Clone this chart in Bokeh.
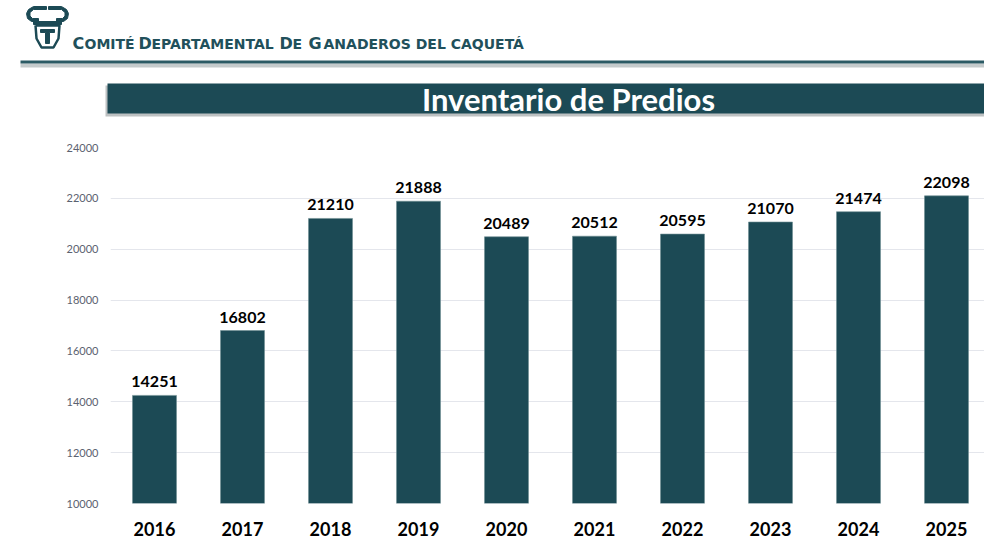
from bokeh.plotting import figure
from bokeh.models import Range1d, FixedTicker, ColumnDataSource
from bokeh.core.properties import value
from bokeh.embed import file_html
from bokeh.resources import INLINE

# ---- data ----
years = ["2016", "2017", "2018", "2019", "2020", "2021", "2022", "2023", "2024", "2025"]
predios = [14251, 16802, 21210, 21888, 20489, 20512, 20595, 21070, 21474, 22098]
y_ticks = [10000, 12000, 14000, 16000, 18000, 20000, 22000, 24000]
title_text = "Inventario de Predios"
# small-caps header: (text, is_capital)
header_parts = [("C", True), ("OMITÉ", False), ("D", True), ("EPARTAMENTAL", False),
                ("D", True), ("E", False), ("G", True), ("ANADEROS DEL CAQUETÁ", False)]

TEAL = "#1C4A55"
FONT = "Lato"
W = 984
HH = 120          # header height
CH = 424          # chart height

# ================= header figure (pixel coordinates, y downwards) =================
hdr = figure(width=W, height=HH, x_range=Range1d(0, W), y_range=Range1d(HH, 0),
             x_axis_type=None, y_axis_type=None, toolbar_location=None,
             output_backend="svg", min_border=0, outline_line_color=None)
hdr.grid.visible = False

# logo (stylised bull head)
left_horn = [(46, 6), (33, 6), (28, 9), (26, 13), (27, 18), (31, 21), (38, 21), (38, 18),
             (32, 18), (29.5, 15.5), (29.5, 12), (33, 9), (46, 9)]
right_horn = [(94 - x, y) for x, y in left_horn]
bar = [(33, 21), (61, 21), (61, 24), (33, 24)]
inner = [(40, 29), (54, 29), (54, 32), (49, 32), (49, 43), (45, 43), (45, 32), (40, 32)]
shapes = [left_horn, right_horn, bar, inner]
hdr.patches(xs=[[a for a, b in s] for s in shapes], ys=[[b for a, b in s] for s in shapes],
            fill_color=TEAL, line_color=TEAL, line_width=1)
shield = [(35, 25), (59, 25), (58, 38), (53, 47), (41, 47), (36, 38), (35, 25)]
hdr.line(x=[a for a, b in shield], y=[b for a, b in shield], line_color=TEAL, line_width=2.5)

# header text in small caps
starts = [72, 84, 138, 151, 279, 292, 308, 323]
hdr.text(x=starts, y=[43] * len(starts), text=[t for t, c in header_parts],
         text_font=value("DejaVu Sans"), text_font_style="bold",
         text_font_size=["16px" if c else "14px" for t, c in header_parts],
         text_color="#21505B", text_align="left", text_baseline="alphabetic")

# header rule with shadow
hdr.quad(left=[20], right=[W], top=[63], bottom=[67], fill_color="#C5CBCC", line_color=None)
hdr.quad(left=[20], right=[W], top=[60], bottom=[63], fill_color="#2C5B65", line_color=None)

# title banner with shadow
hdr.quad(left=[105], right=[W], top=[85], bottom=[116], fill_color="#BDC1C2", line_color=None)
hdr.quad(left=[107], right=[W], top=[83], bottom=[113], fill_color=TEAL, line_color=None)
hdr.text(x=[568], y=[98], text=[title_text], text_font=value(FONT), text_font_style="bold",
         text_font_size="31px", text_color="white", text_align="center", text_baseline="middle")

# ================= chart figure =================
FL, FT = 110, 27
FB = CH - 41
X0, STEP = -0.5, 88.0

xs = list(range(len(years)))
src = ColumnDataSource(dict(x=xs, top=predios, lbl=[str(v) for v in predios]))

p = figure(width=W, height=CH, x_range=Range1d(X0, X0 + (W - FL) / STEP),
           y_range=Range1d(10000, 24000), toolbar_location=None, output_backend="svg",
           min_border_left=FL, min_border_right=0, min_border_top=FT,
           min_border_bottom=CH - FB, outline_line_color=None)

p.vbar(x="x", top="top", bottom=10000, width=0.5, source=src,
       fill_color=TEAL, line_color="#6F8E94", line_width=0.6)
p.text(x="x", y="top", text="lbl", source=src, text_font=value(FONT), text_font_style="bold",
       text_font_size="16px", text_color="black", text_align="center",
       text_baseline="bottom", y_offset=-8)

p.xgrid.visible = False
p.ygrid.grid_line_color = "#E4E6EC"
p.ygrid.grid_line_width = 1
p.ygrid.ticker = FixedTicker(ticks=y_ticks)

p.yaxis.ticker = FixedTicker(ticks=y_ticks)
p.yaxis.axis_line_color = None
p.yaxis.major_tick_line_color = None
p.yaxis.minor_tick_line_color = None
p.yaxis.major_tick_out = 0
p.yaxis.major_tick_in = 0
p.yaxis.major_label_text_font = FONT
p.yaxis.major_label_text_font_size = "11px"
p.yaxis.major_label_text_color = "#5B6270"
p.yaxis.major_label_standoff = 12

p.xaxis.ticker = FixedTicker(ticks=xs)
p.xaxis.major_label_overrides = {i: y for i, y in zip(xs, years)}
p.xaxis.axis_line_color = None
p.xaxis.major_tick_line_color = None
p.xaxis.minor_tick_line_color = None
p.xaxis.major_tick_out = 0
p.xaxis.major_tick_in = 0
p.xaxis.major_label_text_font = FONT
p.xaxis.major_label_text_font_style = "bold"
p.xaxis.major_label_text_font_size = "18px"
p.xaxis.major_label_text_color = "black"
p.xaxis.major_label_standoff = 18

# two independent roots stacked vertically (no frame alignment between them)
open("out.html", "w").write(file_html([hdr, p], INLINE))
